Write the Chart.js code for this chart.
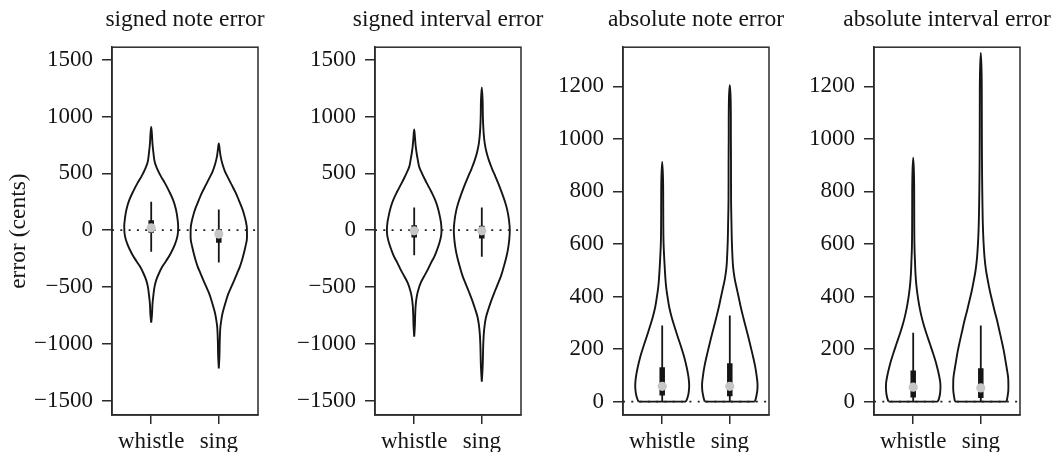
<!DOCTYPE html>
<html>
<head>
<meta charset="utf-8">
<script src="https://cdn.jsdelivr.net/npm/chart.js@4/dist/chart.umd.min.js"></script>
<style>
html, body { margin: 0; padding: 0; background: #fff; overflow: hidden; width: 1053px; height: 452px; position: relative; }
canvas { position: absolute; top: 0; }
</style>
</head>
<body>
<canvas id="p0" width="370" height="470" style="left:0px"></canvas>
<canvas id="p1" width="370" height="470" style="left:263px"></canvas>
<canvas id="p2" width="370" height="470" style="left:511px"></canvas>
<canvas id="p3" width="370" height="470" style="left:762px"></canvas>
<script>
// ---------------- data ----------------
const categories = ['whistle', 'sing'];
const panelTitles = ['signed note error', 'signed interval error', 'absolute note error', 'absolute interval error'];
const yAxisTitle = 'error (cents)';
const signedTickValues = [-1500, -1000, -500, 0, 500, 1000, 1500];
const absoluteTickValues = [0, 200, 400, 600, 800, 1000, 1200];

// violin outlines: levels (cents) and half widths (category units)
const sigNoteWhistleLevels = [909, 850, 760, 680, 600, 540, 480, 420, 350, 264, 180, 100, 29, -50, -130, -205, -270, -323, -380, -440, -500, -570, -650, -740, -815];
const sigNoteWhistleHalfWidths = [0, 0.010, 0.019, 0.033, 0.052, 0.089, 0.138, 0.197, 0.259, 0.325, 0.367, 0.389, 0.399, 0.389, 0.348, 0.288, 0.222, 0.163, 0.115, 0.074, 0.049, 0.033, 0.019, 0.012, 0];
const sigNoteSingLevels = [762, 700, 640, 580, 520, 460, 400, 330, 264, 200, 147, 80, 29, -30, -88, -150, -205, -265, -323, -380, -440, -500, -557, -615, -674, -730, -792, -850, -909, -1000, -1100, -1217];
const sigNoteSingHalfWidths = [0, 0.015, 0.030, 0.055, 0.089, 0.138, 0.189, 0.249, 0.296, 0.340, 0.370, 0.399, 0.414, 0.417, 0.414, 0.392, 0.370, 0.343, 0.311, 0.271, 0.229, 0.185, 0.143, 0.111, 0.081, 0.056, 0.037, 0.024, 0.018, 0.013, 0.010, 0];

const sigIntWhistleLevels = [886, 810, 740, 670, 610, 557, 500, 450, 411, 340, 264, 200, 147, 70, 0, -60, -117, -175, -235, -290, -352, -410, -469, -530, -587, -660, -740, -840, -938];
const sigIntWhistleHalfWidths = [0, 0.012, 0.022, 0.038, 0.056, 0.074, 0.115, 0.155, 0.188, 0.251, 0.311, 0.348, 0.370, 0.395, 0.404, 0.395, 0.370, 0.337, 0.296, 0.247, 0.197, 0.143, 0.093, 0.059, 0.037, 0.022, 0.015, 0.010, 0];
const sigIntSingLevels = [1255, 1144, 1000, 909, 830, 762, 690, 616, 540, 469, 400, 323, 250, 176, 90, 0, -90, -176, -250, -323, -400, -469, -540, -616, -690, -762, -830, -909, -1000, -1085, -1200, -1334];
const sigIntSingHalfWidths = [0, 0.012, 0.016, 0.022, 0.031, 0.044, 0.068, 0.104, 0.152, 0.203, 0.251, 0.300, 0.343, 0.377, 0.402, 0.414, 0.405, 0.385, 0.358, 0.325, 0.286, 0.241, 0.192, 0.143, 0.101, 0.064, 0.044, 0.030, 0.022, 0.018, 0.013, 0];

const absNoteWhistleLevels = [912, 850, 766, 690, 613, 560, 512, 470, 435, 400, 359, 320, 283, 245, 207, 170, 131, 100, 80, 60, 42, 25, 12, 0];
const absNoteWhistleHalfWidths = [0, 0.012, 0.015, 0.016, 0.019, 0.027, 0.037, 0.047, 0.059, 0.078, 0.104, 0.141, 0.185, 0.232, 0.281, 0.325, 0.362, 0.385, 0.395, 0.399, 0.395, 0.385, 0.370, 0.351];
const absNoteSingLevels = [1204, 1147, 1000, 900, 766, 690, 613, 560, 512, 470, 435, 400, 359, 320, 283, 245, 207, 170, 131, 100, 67, 45, 29, 12, 0];
const absNoteSingHalfWidths = [0, 0.013, 0.016, 0.018, 0.019, 0.024, 0.030, 0.038, 0.049, 0.071, 0.099, 0.129, 0.163, 0.200, 0.237, 0.275, 0.311, 0.345, 0.377, 0.396, 0.410, 0.408, 0.399, 0.385, 0.370];

const absIntWhistleLevels = [928, 860, 740, 660, 588, 530, 486, 445, 410, 370, 334, 295, 258, 220, 182, 145, 106, 85, 67, 45, 29, 12, 0];
const absIntWhistleHalfWidths = [0, 0.012, 0.015, 0.016, 0.019, 0.027, 0.034, 0.046, 0.062, 0.086, 0.114, 0.152, 0.197, 0.247, 0.296, 0.340, 0.377, 0.393, 0.402, 0.402, 0.396, 0.382, 0.365];
const absIntSingLevels = [1327, 1250, 1121, 1000, 867, 760, 677, 610, 550, 500, 461, 420, 385, 345, 309, 270, 232, 195, 156, 125, 93, 65, 42, 20, 0];
const absIntSingHalfWidths = [0, 0.012, 0.015, 0.016, 0.019, 0.024, 0.030, 0.040, 0.055, 0.077, 0.104, 0.135, 0.167, 0.204, 0.241, 0.275, 0.308, 0.339, 0.365, 0.385, 0.404, 0.408, 0.407, 0.396, 0.382];

// box stats: [whisker low, q1, median, q3, whisker high]
const sigNoteWhistleStats = [-191, -23, 20, 88, 249];
const sigNoteSingStats = [-284, -111, -35, 6, 182];
const sigIntWhistleStats = [-220, -64, -6, 44, 200];
const sigIntSingStats = [-235, -73, -6, 38, 200];
const absNoteWhistleStats = [0, 23, 58, 131, 290];
const absNoteSingStats = [0, 20, 58, 146, 328];
const absIntWhistleStats = [0, 16, 55, 118, 262];
const absIntSingStats = [0, 14, 52, 127, 290];

// ---------------- layout / style ----------------
const X_MIN = 0.42, X_MAX = 2.58;
const SIDE_W = 112;
const FONT = 'Liberation Serif, Times New Roman, serif';
const INK = '#151515';

const panels = [
  { id: 'p0', title: panelTitles[0], yTitle: yAxisTitle, yMin: -1627, yMax: 1610, ticks: signedTickValues,
    violins: [[sigNoteWhistleLevels, sigNoteWhistleHalfWidths], [sigNoteSingLevels, sigNoteSingHalfWidths]],
    stats: [sigNoteWhistleStats, sigNoteSingStats] },
  { id: 'p1', title: panelTitles[1], yTitle: null, yMin: -1627, yMax: 1610, ticks: signedTickValues,
    violins: [[sigIntWhistleLevels, sigIntWhistleHalfWidths], [sigIntSingLevels, sigIntSingHalfWidths]],
    stats: [sigIntWhistleStats, sigIntSingStats] },
  { id: 'p2', title: panelTitles[2], yTitle: null, yMin: -51, yMax: 1349, ticks: absoluteTickValues,
    violins: [[absNoteWhistleLevels, absNoteWhistleHalfWidths], [absNoteSingLevels, absNoteSingHalfWidths]],
    stats: [absNoteWhistleStats, absNoteSingStats] },
  { id: 'p3', title: panelTitles[3], yTitle: null, yMin: -51, yMax: 1349, ticks: absoluteTickValues,
    violins: [[absIntWhistleLevels, absIntWhistleHalfWidths], [absIntSingLevels, absIntSingHalfWidths]],
    stats: [absIntWhistleStats, absIntSingStats] },
];

const framePlugin = {
  id: 'frame',
  afterDatasetsDraw(chart) {
    const a = chart.chartArea, ctx = chart.ctx;
    ctx.save();
    ctx.strokeStyle = '#2a2a2a';
    ctx.lineWidth = 1.5;
    ctx.strokeRect(a.left, a.top, a.right - a.left, a.bottom - a.top);
    ctx.restore();
  }
};

// outline: right side bottom->top, then left side top->bottom
function violinPoints(center, levels, widths) {
  const n = levels.length;
  const pts = [];
  for (let k = n - 1; k >= 0; k--) pts.push({ x: center + widths[k], y: levels[k] });
  for (let k = 0; k < n; k++) {
    if (widths[k] === 0) continue;
    pts.push({ x: center - widths[k], y: levels[k] });
  }
  if (widths[n - 1] === 0) pts.push(pts[0]);
  return pts;
}

function makeChart(p) {
  const datasets = [];
  p.violins.forEach((v, i) => {
    const c = i + 1;
    const levels = v[0], widths = v[1], n = levels.length;
    datasets.push({
      data: violinPoints(c, levels, widths), showLine: true, fill: false,
      borderColor: INK, borderWidth: 1.9, pointRadius: 0, tension: 0.4, order: 5,
      borderJoinStyle: 'round', xAxisID: 'x', yAxisID: 'y'
    });
    if (widths[n - 1] > 0) {
      datasets.push({
        data: [{ x: c - widths[n - 1], y: levels[n - 1] }, { x: c + widths[n - 1], y: levels[n - 1] }],
        showLine: true, borderColor: INK, borderWidth: 1.9, pointRadius: 0, order: 5,
        xAxisID: 'x', yAxisID: 'y'
      });
    }
  });
  datasets.push({
    data: [{ x: X_MIN, y: 0 }, { x: X_MAX, y: 0 }], showLine: true, borderColor: '#222',
    borderWidth: 1.7, borderDash: [2, 6.3], pointRadius: 0, order: 4, xAxisID: 'x', yAxisID: 'y'
  });
  p.stats.forEach((s, i) => {
    datasets.push({
      data: [{ x: i + 1, y: s[0] }, { x: i + 1, y: s[4] }], showLine: true, borderColor: INK,
      borderWidth: 1.8, pointRadius: 0, order: 3, xAxisID: 'x', yAxisID: 'y'
    });
    datasets.push({
      data: [{ x: i + 1, y: s[1] }, { x: i + 1, y: s[3] }], showLine: true, borderColor: INK,
      borderWidth: 5.5, borderCapStyle: 'butt', pointRadius: 0, order: 2, xAxisID: 'x', yAxisID: 'y'
    });
  });
  datasets.push({
    data: p.stats.map((s, i) => ({ x: i + 1, y: s[2] })), showLine: false,
    pointRadius: 4.6, pointBackgroundColor: '#c6c6c6', pointBorderWidth: 0, order: 1,
    xAxisID: 'x', yAxisID: 'y'
  });

  new Chart(document.getElementById(p.id), {
    type: 'scatter',
    data: { datasets },
    plugins: [framePlugin],
    options: {
      responsive: false, animation: false, events: [],
      layout: { padding: 0 },
      plugins: {
        legend: { display: false }, tooltip: { enabled: false },
        title: {
          display: true, text: p.title, color: INK,
          font: { family: FONT, size: 23.5, weight: 'normal' },
          padding: { top: 6, bottom: 13 }
        }
      },
      scales: {
        x: {
          type: 'linear', min: X_MIN, max: X_MAX,
          afterBuildTicks: s => { s.ticks = categories.map((c, i) => ({ value: i + 1 })); },
          afterFit: s => { s.height = 55; },
          ticks: {
            callback: v => categories[v - 1], color: INK, padding: 4, autoSkip: false, maxRotation: 0,
            font: { family: FONT, size: 23 }
          },
          grid: { drawOnChartArea: false, drawTicks: true, tickLength: 9, color: '#2a2a2a', lineWidth: 1.5 },
          border: { display: true, color: '#2a2a2a', width: 1.5 }
        },
        y: {
          type: 'linear', position: 'left', min: p.yMin, max: p.yMax,
          afterBuildTicks: s => { s.ticks = p.ticks.map(v => ({ value: v })); },
          afterFit: s => { s.width = SIDE_W; },
          ticks: {
            callback: v => String(v).replace('-', '\u2212'), color: INK, padding: 9, autoSkip: false,
            font: { family: FONT, size: 23 }
          },
          grid: { drawOnChartArea: false, drawTicks: true, tickLength: 10, color: '#2a2a2a', lineWidth: 1.5 },
          border: { display: true, color: '#2a2a2a', width: 1.5 },
          title: {
            display: !!p.yTitle, text: p.yTitle || '', color: INK,
            font: { family: FONT, size: 23.5 }, padding: { top: 5, bottom: 0 }
          }
        },
        yR: {
          type: 'linear', position: 'right', display: true,
          afterFit: s => { s.width = SIDE_W; },
          ticks: { display: false }, grid: { display: false }, border: { display: false }
        }
      }
    }
  });
}

panels.forEach(makeChart);
</script>
</body>
</html>
